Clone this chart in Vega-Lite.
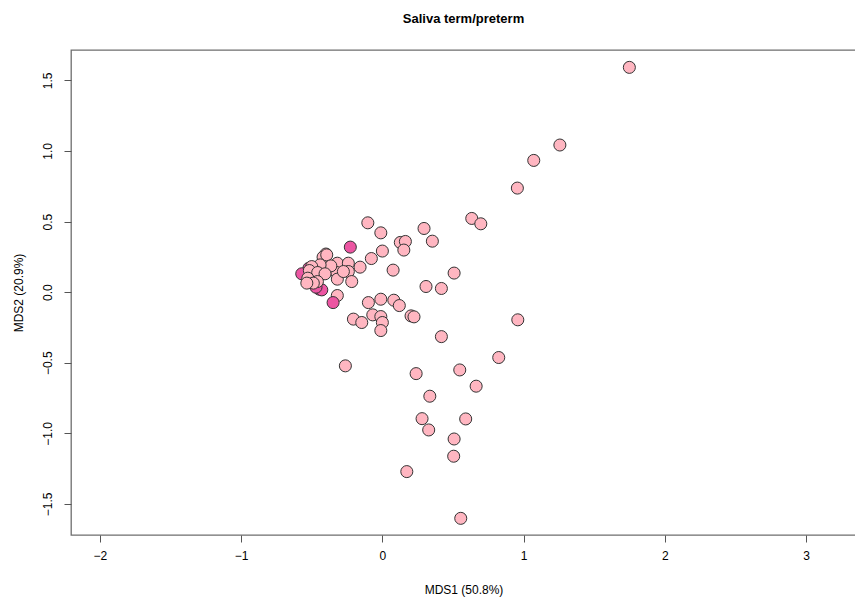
{
  "$schema": "https://vega.github.io/schema/vega-lite/v6.json",
  "width": 785,
  "height": 485,
  "autosize": "none",
  "padding": {"left": 71, "top": 50, "right": 0, "bottom": 65},
  "background": "white",
  "config": {
    "view": {"stroke": "#6e6e6e", "strokeWidth": 1.3},
    "font": "Liberation Sans"
  },
  "title": {
    "text": "Saliva term/preterm",
    "font": "Liberation Sans",
    "fontSize": 13,
    "fontWeight": "bold",
    "color": "#000",
    "anchor": "middle",
    "offset": 24
  },
  "data": {
    "values": [
      {"x": -0.52, "y": 0.17, "g": "preterm"},
      {"x": -0.571, "y": 0.13, "g": "preterm"},
      {"x": -0.446, "y": 0.021, "g": "preterm"},
      {"x": -0.429, "y": 0.016, "g": "preterm"},
      {"x": -0.47, "y": 0.035, "g": "preterm"},
      {"x": 1.749, "y": 1.592, "g": "term"},
      {"x": 1.257, "y": 1.042, "g": "term"},
      {"x": 1.072, "y": 0.933, "g": "term"},
      {"x": 0.956, "y": 0.737, "g": "term"},
      {"x": 0.633, "y": 0.522, "g": "term"},
      {"x": 0.697, "y": 0.484, "g": "term"},
      {"x": 0.295, "y": 0.451, "g": "term"},
      {"x": 0.354, "y": 0.361, "g": "term"},
      {"x": 0.508, "y": 0.135, "g": "term"},
      {"x": 0.309, "y": 0.04, "g": "term"},
      {"x": 0.418, "y": 0.026, "g": "term"},
      {"x": 0.959, "y": -0.196, "g": "term"},
      {"x": 0.418, "y": -0.315, "g": "term"},
      {"x": -0.262, "y": -0.522, "g": "term"},
      {"x": 0.824, "y": -0.463, "g": "term"},
      {"x": 0.239, "y": -0.577, "g": "term"},
      {"x": 0.548, "y": -0.551, "g": "term"},
      {"x": 0.664, "y": -0.666, "g": "term"},
      {"x": 0.336, "y": -0.737, "g": "term"},
      {"x": 0.281, "y": -0.896, "g": "term"},
      {"x": 0.59, "y": -0.898, "g": "term"},
      {"x": 0.328, "y": -0.976, "g": "term"},
      {"x": 0.508, "y": -1.04, "g": "term"},
      {"x": 0.505, "y": -1.162, "g": "term"},
      {"x": 0.173, "y": -1.271, "g": "term"},
      {"x": 0.555, "y": -1.602, "g": "term"},
      {"x": -0.103, "y": 0.491, "g": "term"},
      {"x": -0.011, "y": 0.42, "g": "term"},
      {"x": 0.127, "y": 0.352, "g": "term"},
      {"x": 0.163, "y": 0.359, "g": "term"},
      {"x": 0.152, "y": 0.298, "g": "term"},
      {"x": 0.0, "y": 0.291, "g": "term"},
      {"x": -0.078, "y": 0.238, "g": "term"},
      {"x": -0.158, "y": 0.177, "g": "term"},
      {"x": 0.076, "y": 0.156, "g": "term"},
      {"x": -0.319, "y": 0.205, "g": "term"},
      {"x": -0.241, "y": 0.205, "g": "term"},
      {"x": -0.323, "y": 0.139, "g": "term"},
      {"x": -0.241, "y": 0.146, "g": "term"},
      {"x": -0.319, "y": 0.092, "g": "term"},
      {"x": -0.217, "y": 0.075, "g": "term"},
      {"x": -0.319, "y": -0.024, "g": "term"},
      {"x": -0.099, "y": -0.074, "g": "term"},
      {"x": -0.011, "y": -0.05, "g": "term"},
      {"x": 0.081, "y": -0.057, "g": "term"},
      {"x": 0.12, "y": -0.095, "g": "term"},
      {"x": -0.205, "y": -0.191, "g": "term"},
      {"x": -0.146, "y": -0.215, "g": "term"},
      {"x": -0.068, "y": -0.161, "g": "term"},
      {"x": -0.011, "y": -0.173, "g": "term"},
      {"x": 0.0, "y": -0.215, "g": "term"},
      {"x": -0.011, "y": -0.272, "g": "term"},
      {"x": 0.203, "y": -0.168, "g": "term"},
      {"x": 0.224, "y": -0.175, "g": "term"},
      {"x": -0.4, "y": 0.27, "g": "term"},
      {"x": -0.42, "y": 0.248, "g": "term"},
      {"x": -0.394, "y": 0.264, "g": "term"},
      {"x": -0.365, "y": 0.186, "g": "term"},
      {"x": -0.441, "y": 0.193, "g": "term"},
      {"x": -0.5, "y": 0.181, "g": "term"},
      {"x": -0.517, "y": 0.153, "g": "term"},
      {"x": -0.458, "y": 0.139, "g": "term"},
      {"x": -0.406, "y": 0.13, "g": "term"},
      {"x": -0.528, "y": 0.099, "g": "term"},
      {"x": -0.46, "y": 0.075, "g": "term"},
      {"x": -0.489, "y": 0.064, "g": "term"},
      {"x": -0.535, "y": 0.064, "g": "term"},
      {"x": -0.276, "y": 0.146, "g": "term"},
      {"x": -0.227, "y": 0.319, "g": "preterm"},
      {"x": -0.349, "y": -0.074, "g": "preterm"}
    ]
  },
  "mark": {"type": "point", "shape": "circle", "filled": true, "size": 145, "stroke": "#333", "strokeWidth": 1, "opacity": 1},
  "encoding": {
    "x": {
      "field": "x", "type": "quantitative",
      "scale": {"domain": [-2.205, 3.354], "nice": false, "zero": false},
      "axis": {
        "title": "MDS1 (50.8%)", "grid": false, "domain": false,
        "values": [-2, -1, 0, 1, 2, 3], "format": "d",
        "tickSize": 7, "tickColor": "#555", "tickWidth": 1,
        "labelFontSize": 12, "labelColor": "#000", "labelPadding": 8,
        "labelFont": "Liberation Sans",
        "titleFont": "Liberation Sans", "titleFontSize": 12, "titleFontWeight": "normal",
        "titleColor": "#000", "titlePadding": 23
      }
    },
    "y": {
      "field": "y", "type": "quantitative",
      "scale": {"domain": [-1.72, 1.715], "nice": false, "zero": false},
      "axis": {
        "title": "MDS2 (20.9%)", "grid": false, "domain": false,
        "values": [-1.5, -1, -0.5, 0, 0.5, 1, 1.5], "format": ".1f",
        "tickSize": 7, "tickColor": "#555", "tickWidth": 1,
        "labelFontSize": 12, "labelColor": "#000", "labelPadding": 10,
        "labelAngle": -90, "labelAlign": "center", "labelBaseline": "bottom",
        "labelFont": "Liberation Sans",
        "titleFont": "Liberation Sans", "titleFontSize": 12, "titleFontWeight": "normal",
        "titleColor": "#000", "titlePadding": 16
      }
    },
    "fill": {
      "field": "g", "type": "nominal",
      "scale": {"domain": ["term", "preterm"], "range": ["#FFB6C1", "#EC55A2"]},
      "legend": null
    }
  }
}
